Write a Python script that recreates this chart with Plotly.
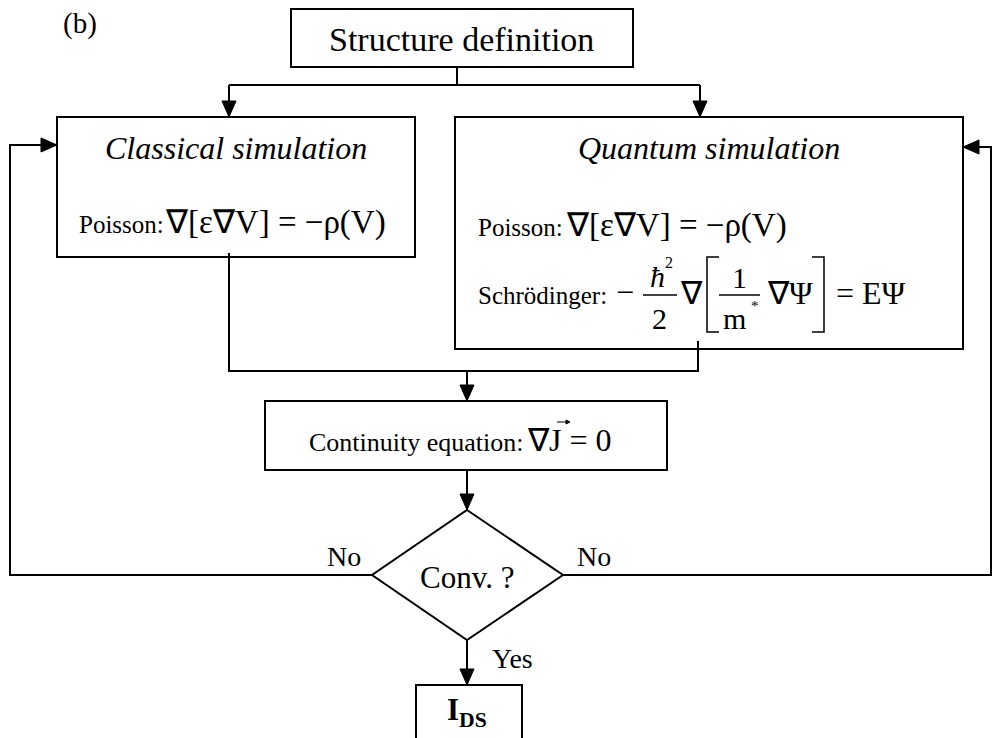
import plotly.graph_objects as go

# texts of the flowchart
panel_label = "(b)"
top_label = "Structure definition"
left_title = "Classical simulation"
right_title = "Quantum simulation"
poisson_label = "Poisson:"
poisson_eq = "∇[ε∇V] = −ρ(V)"
schrod_label = "Schrödinger:"
cont_label = "Continuity equation:"
cont_eq = "∇J = 0"
conv_label = "Conv. ?"
no_label = "No"
yes_label = "Yes"
out_label = "<b>I<sub>DS</sub></b>"

W, H = 1002, 738
OFF = 8  # page body margin, so data units equal page pixels
FONT = "Liberation Serif, Times New Roman, serif"

shapes = []
annots = []


def box(x0, y0, x1, y1):
    shapes.append(dict(type="rect", x0=x0, y0=y0, x1=x1, y1=y1,
                       line=dict(color="black", width=2)))


def line(pts, w=2):
    p = "M " + " L ".join("%s,%s" % (x, y) for x, y in pts)
    shapes.append(dict(type="path", path=p, line=dict(color="black", width=w)))


def head(x, y, d, L=16, h=7):
    # filled arrow head, tip at (x,y)
    if d == "down":
        p = "M %s,%s L %s,%s L %s,%s Z" % (x, y, x - h, y - L, x + h, y - L)
    elif d == "right":
        p = "M %s,%s L %s,%s L %s,%s Z" % (x, y, x - L, y - h, x - L, y + h)
    else:
        p = "M %s,%s L %s,%s L %s,%s Z" % (x, y, x + L, y - h, x + L, y + h)
    shapes.append(dict(type="path", path=p, fillcolor="black",
                       line=dict(color="black", width=1)))


def txt(x, y, s, size, anchor="center"):
    annots.append(dict(x=x, y=y, text=s, showarrow=False, xanchor=anchor,
                       yanchor="middle", font=dict(family=FONT, size=size, color="black")))


# boxes
box(291, 9, 633, 67)
box(57, 117, 415, 257)
box(455, 117, 963, 349)
box(265, 401, 667, 470)
box(416, 685, 522, 760)
shapes.append(dict(type="path", path="M 467,510 L 563,575 L 467,640 L 372,575 Z",
                   line=dict(color="black", width=2)))

# connectors
line([(457, 67), (457, 85)])
line([(229, 85), (700, 85)])
line([(229, 85), (229, 117)]); head(229, 117, "down")
line([(700, 85), (700, 117)]); head(700, 117, "down")
line([(229, 253), (229, 371), (698, 371), (698, 341)])
line([(467, 371), (467, 401)]); head(467, 401, "down")
line([(467, 470), (467, 510)]); head(467, 510, "down")
line([(467, 640), (467, 685)]); head(467, 685, "down")
line([(372, 575), (10, 575), (10, 145), (57, 145)]); head(57, 145, "right")
line([(563, 575), (991, 575), (991, 147), (963, 147)]); head(963, 147, "left")

# text
txt(80, 23, panel_label, 29)
txt(461, 39, top_label, 34)
txt(236, 148, "<i>" + left_title + "</i>", 32)
txt(709, 148, "<i>" + right_title + "</i>", 32)

txt(77, 224, poisson_label, 25, "left")
txt(163, 222, poisson_eq, 33, "left")
txt(476, 227, poisson_label, 25, "left")
txt(564, 225, poisson_eq, 33, "left")

# Schrödinger equation, piece by piece
txt(476, 295, schrod_label, 25, "left")
txt(614, 292, "−", 32, "left")
txt(657, 276, "<i>ħ</i>", 30)
txt(669, 262, "2", 16)
line([(643, 295), (677, 295)], 1.5)
txt(659, 318, "2", 30)
txt(691, 293, "∇", 32)
line([(719, 257), (707, 257), (707, 332), (719, 332)], 1.5)
txt(739, 277, "1", 30)
line([(719, 295), (760, 295)], 1.5)
txt(734, 318, "m", 30)
txt(755, 306, "*", 15)
txt(765, 293, "∇Ψ", 32, "left")
line([(812, 257), (824, 257), (824, 332), (812, 332)], 1.5)
txt(834, 293, "= EΨ", 32, "left")

txt(307, 442, cont_label, 26, "left")
txt(525, 440, cont_eq, 32, "left")
# small vector arrow over J
line([(557, 422), (567, 422)], 1)
head(570, 422, "right", L=4, h=2)

txt(467, 577, conv_label, 31)
txt(363, 556, no_label, 28, "right")
txt(575, 556, no_label, 28, "left")
txt(490, 658, yes_label, 28, "left")
txt(467, 712, out_label, 31)

fig = go.Figure()
fig.update_layout(
    width=W, height=H, margin=dict(l=0, r=0, t=0, b=0),
    paper_bgcolor="white", plot_bgcolor="white",
    xaxis=dict(range=[OFF, W + OFF], visible=False, fixedrange=True),
    yaxis=dict(range=[H + OFF, OFF], visible=False, fixedrange=True),
    shapes=shapes, annotations=annots, showlegend=False,
)
fig.write_html("out.html")
